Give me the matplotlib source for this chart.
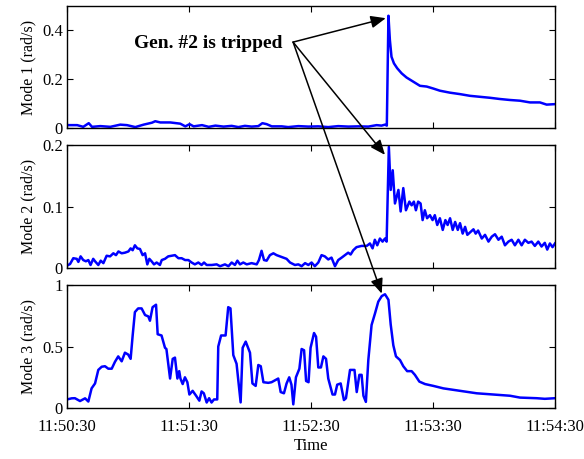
import numpy as np
import matplotlib
matplotlib.use('Agg')
import matplotlib.pyplot as plt
from matplotlib.patches import ConnectionPatch

plt.rcParams['font.family'] = ['Liberation Serif', 'DejaVu Serif']

# Time in seconds after 11:50:30
tick_pos = [0, 60, 120, 180, 240]
tick_labels = ['11:50:30', '11:51:30', '11:52:30', '11:53:30', '11:54:30']

# Mode 1
t1 = [0, 5, 8, 10.7, 12.3, 16.4, 21.3, 26.2, 29.5, 33.6, 37.7, 41.8, 43.4, 45.9,
      50.8, 55.7, 58.2, 60.3, 62.3, 66.4, 69.7, 73, 77, 81, 84.3, 87.5, 90.8,
      94.1, 96.1, 98.2, 100.7, 105.6, 108.8, 113.8, 118.7, 123.6, 128.5, 133.4,
      138.4, 143.3, 148.2, 152.3, 154.7, 156.4, 157.3, 158.1, 158.8, 159.6,
      160.8, 162.4, 164.6, 167, 170.3, 173.6, 176.9, 180.1, 183.4, 188.3, 193.3,
      198.2, 203.1, 208, 212.9, 217.8, 222.8, 227.7, 232.6, 235.9, 240]
m1 = [0.012, 0.012, 0.005, 0.02, 0.005, 0.008, 0.005, 0.014, 0.012, 0.004, 0.014,
      0.022, 0.028, 0.023, 0.023, 0.018, 0.007, 0.016, 0.007, 0.012, 0.005, 0.01,
      0.006, 0.009, 0.004, 0.009, 0.006, 0.008, 0.02, 0.016, 0.007, 0.007, 0.004,
      0.008, 0.006, 0.007, 0.004, 0.008, 0.006, 0.007, 0.006, 0.012, 0.01, 0.014,
      0.01, 0.46, 0.361, 0.292, 0.265, 0.245, 0.224, 0.207, 0.19, 0.173, 0.17,
      0.162, 0.153, 0.145, 0.139, 0.132, 0.128, 0.124, 0.119, 0.115, 0.112,
      0.105, 0.105, 0.096, 0.098]

# Mode 2
t2 = [0, 1.5, 3.1, 4.8, 5.6, 6.7, 8, 9.3, 10.5, 11.6, 12.9, 13.8, 15.4, 16.6,
      17.9, 19.5, 21.2, 22.8, 24.1, 25.3, 26.9, 28.5, 30.2, 31.3, 32.3, 33.4,
      34.6, 35.9, 37.2, 38.4, 39.5, 40.5, 41.6, 42.8, 44.1, 45.7, 46.6, 48.2,
      49.8, 51.5, 53.1, 54.8, 56.4, 58.1, 59.7, 61.3, 62.9, 64.6, 66.2, 67.4,
      68.7, 71.2, 73.6, 75.3, 77.7, 79.4, 81, 82.6, 83.8, 85.1, 86.7, 88.4,
      90.8, 93.3, 94.4, 95.7, 96.9, 98.2, 99.8, 101.5, 103.1, 104.7, 106.4, 108,
      109.7, 112.1, 113.8, 115.4, 117.1, 118.7, 120.3, 121.9, 123.6, 125.2,
      126.8, 128.5, 130.1, 131.8, 133.4, 135.1, 136.7, 138.3, 139.5, 140.8,
      142.4, 144.9, 147.4, 149, 150.3, 151.4, 152.6, 153.9, 155.2, 156.4, 157.2,
      158.3, 159.2, 160.2, 161.3, 163, 164.1, 165.4, 166.7, 168.4, 169.5, 170.6,
      171.6, 172.7, 173.9, 174.9, 176, 177.1, 178.5, 179.8, 180.9, 182.1, 183.4,
      184.8, 186.1, 187.2, 188.4, 189.7, 190.9, 192.2, 193.3, 194.6, 195.8,
      196.9, 198.2, 199.9, 201, 202.2, 204, 205.6, 207.3, 208.9, 210.5, 212.2,
      213.8, 215.4, 217.1, 218.7, 220.3, 222, 223.6, 225.2, 226.9, 228.5, 230.1,
      231.8, 233.4, 235, 236.2, 237.5, 238.8, 240]
m2 = [0.004, 0.0065, 0.016, 0.015, 0.01, 0.019, 0.013, 0.011, 0.013, 0.005,
      0.015, 0.011, 0.005, 0.012, 0.008, 0.02, 0.019, 0.024, 0.021, 0.027, 0.024,
      0.025, 0.027, 0.032, 0.029, 0.037, 0.032, 0.031, 0.021, 0.024, 0.006,
      0.015, 0.011, 0.006, 0.009, 0.005, 0.013, 0.015, 0.019, 0.02, 0.021, 0.016,
      0.016, 0.013, 0.013, 0.009, 0.006, 0.009, 0.005, 0.009, 0.005, 0.005,
      0.006, 0.003, 0.006, 0.003, 0.009, 0.005, 0.012, 0.006, 0.009, 0.006,
      0.008, 0.006, 0.013, 0.028, 0.013, 0.012, 0.021, 0.024, 0.021, 0.019,
      0.017, 0.015, 0.009, 0.005, 0.006, 0.003, 0.008, 0.005, 0.009, 0.003,
      0.009, 0.021, 0.019, 0.014, 0.017, 0.003, 0.013, 0.017, 0.021, 0.025,
      0.022, 0.029, 0.034, 0.036, 0.036, 0.04, 0.032, 0.046, 0.037, 0.048,
      0.043, 0.048, 0.043, 0.197, 0.127, 0.159, 0.105, 0.127, 0.092, 0.13,
      0.094, 0.108, 0.102, 0.108, 0.094, 0.108, 0.105, 0.078, 0.094, 0.081,
      0.086, 0.078, 0.086, 0.07, 0.081, 0.062, 0.078, 0.07, 0.081, 0.062, 0.075,
      0.062, 0.073, 0.056, 0.067, 0.054, 0.058, 0.063, 0.056, 0.061, 0.048,
      0.054, 0.043, 0.051, 0.055, 0.046, 0.051, 0.037, 0.043, 0.046, 0.037,
      0.046, 0.037, 0.046, 0.041, 0.043, 0.036, 0.043, 0.035, 0.041, 0.03, 0.04,
      0.034, 0.04]

# Mode 3
t3 = [0, 2.3, 3.9, 6.4, 8.9, 10.5, 12.1, 13.8, 15.4, 17.1, 18.7, 20.3, 22, 23.6,
      25.2, 26.9, 28.5, 30.1, 31.3, 32.3, 33.4, 35, 36.7, 38.4, 40, 40.8, 42.1,
      43.8, 44.6, 46.5, 48.2, 48.9, 50.7, 52, 53.1, 54.3, 55.2, 55.8, 56.9, 58,
      59.2, 60.2, 61.8, 63.5, 65.1, 66.2, 67.3, 68.7, 69.9, 71.1, 72.3, 73.9,
      74.4, 75.8, 78, 79.3, 80.4, 81.8, 83.4, 85.4, 86.4, 87.9, 90, 91.2, 92.8,
      94.1, 95.3, 96.6, 99, 100.6, 103.9, 105.1, 106.7, 108, 109.3, 110.4, 111.3,
      112.6, 114.3, 115.4, 116.6, 117.6, 118.8, 119.8, 121.5, 122.5, 123.6,
      124.9, 126.1, 127.4, 128.5, 130.6, 131.8, 132.9, 134.6, 136.2, 137.2,
      139.2, 141.4, 142.5, 143.8, 144.9, 145.8, 147, 148.2, 149.8, 151.5, 153.1,
      154.8, 156.4, 158.1, 159.2, 160.5, 161.8, 163.8, 165.4, 167.3, 169.5,
      171.1, 173.3, 176.1, 180.2, 185.1, 193.3, 201.5, 209.7, 217.9, 222.8, 231,
      235, 240]
m3 = [0.07, 0.079, 0.08, 0.057, 0.079, 0.053, 0.16, 0.2, 0.31, 0.336, 0.34, 0.32,
      0.32, 0.376, 0.42, 0.38, 0.45, 0.435, 0.4, 0.59, 0.78, 0.81, 0.81, 0.756,
      0.745, 0.71, 0.82, 0.84, 0.6, 0.59, 0.49, 0.48, 0.24, 0.4, 0.41, 0.24, 0.3,
      0.24, 0.195, 0.25, 0.21, 0.11, 0.14, 0.1, 0.06, 0.135, 0.12, 0.045, 0.08,
      0.045, 0.07, 0.07, 0.5, 0.59, 0.59, 0.82, 0.81, 0.43, 0.36, 0.046, 0.49,
      0.54, 0.45, 0.2, 0.18, 0.35, 0.34, 0.21, 0.205, 0.21, 0.24, 0.13, 0.12, 0.2,
      0.25, 0.19, 0.03, 0.25, 0.32, 0.48, 0.47, 0.22, 0.21, 0.49, 0.61, 0.58,
      0.33, 0.33, 0.42, 0.4, 0.24, 0.11, 0.11, 0.19, 0.2, 0.065, 0.08, 0.31, 0.31,
      0.13, 0.27, 0.27, 0.1, 0.05, 0.39, 0.675, 0.77, 0.865, 0.91, 0.925, 0.88,
      0.68, 0.51, 0.42, 0.39, 0.34, 0.3, 0.3, 0.27, 0.215, 0.195, 0.18, 0.16,
      0.14, 0.12, 0.11, 0.1, 0.085, 0.08, 0.075, 0.08]

ylabels = ['Mode 1 (rad/s)', 'Mode 2 (rad/s)', 'Mode 3 (rad/s)']
ylims = [(0, 0.5), (0, 0.2), (0, 1)]
yticks = [[0, 0.2, 0.4], [0, 0.1, 0.2], [0, 0.5, 1]]
yticklabels = [['0', '0.2', '0.4'], ['0', '0.1', '0.2'], ['0', '0.5', '1']]

fig = plt.figure(figsize=(5.84, 4.59), dpi=100)
left, width = 0.1147, 0.8356
ax1 = fig.add_axes([left, 0.721, width, 0.266])
ax2 = fig.add_axes([left, 0.416, width, 0.268])
ax3 = fig.add_axes([left, 0.111, width, 0.268])
axes = [ax1, ax2, ax3]

for ax, t, m in zip(axes, [t1, t2, t3], [m1, m2, m3]):
    ax.plot(t, m, color='#0000ff', lw=1.8)

for i, ax in enumerate(axes):
    ax.set_facecolor('none')
    ax.set_xlim(0, 240)
    ax.set_ylim(*ylims[i])
    ax.set_xticks(tick_pos)
    ax.set_yticks(yticks[i])
    ax.set_yticklabels(yticklabels[i])
    ax.tick_params(direction='in', top=True, right=True, length=4, width=0.8,
                   labelsize=12, pad=3)
    ax.tick_params(axis='x', pad=8)
    ax.set_ylabel(ylabels[i], fontsize=11.5, labelpad=4)
    for sp in ax.spines.values():
        sp.set_linewidth(1.0)
    if i < 2:
        ax.set_xticklabels([])
    else:
        ax.set_xticklabels(tick_labels)
        ax.set_xlabel('Time', fontsize=12, labelpad=2)

# Annotation
ax1.text(106.2, 0.348, 'Gen. #2 is tripped', fontsize=14, fontweight='bold',
         ha='right', va='center')
start = (111.2, 0.352)
targets = [(ax1, (156.8, 0.45)), (ax2, (156.4, 0.184)), (ax3, (154.8, 0.93))]
for ax, xy in targets:
    con = ConnectionPatch(xyA=start, coordsA=ax1.transData, xyB=xy,
                          coordsB=ax.transData,
                          arrowstyle='-|>,head_length=0.6,head_width=0.25',
                          mutation_scale=15, lw=1.1, color='black',
                          shrinkA=0, shrinkB=0)
    fig.add_artist(con)

fig.savefig('out.png', dpi=100)
